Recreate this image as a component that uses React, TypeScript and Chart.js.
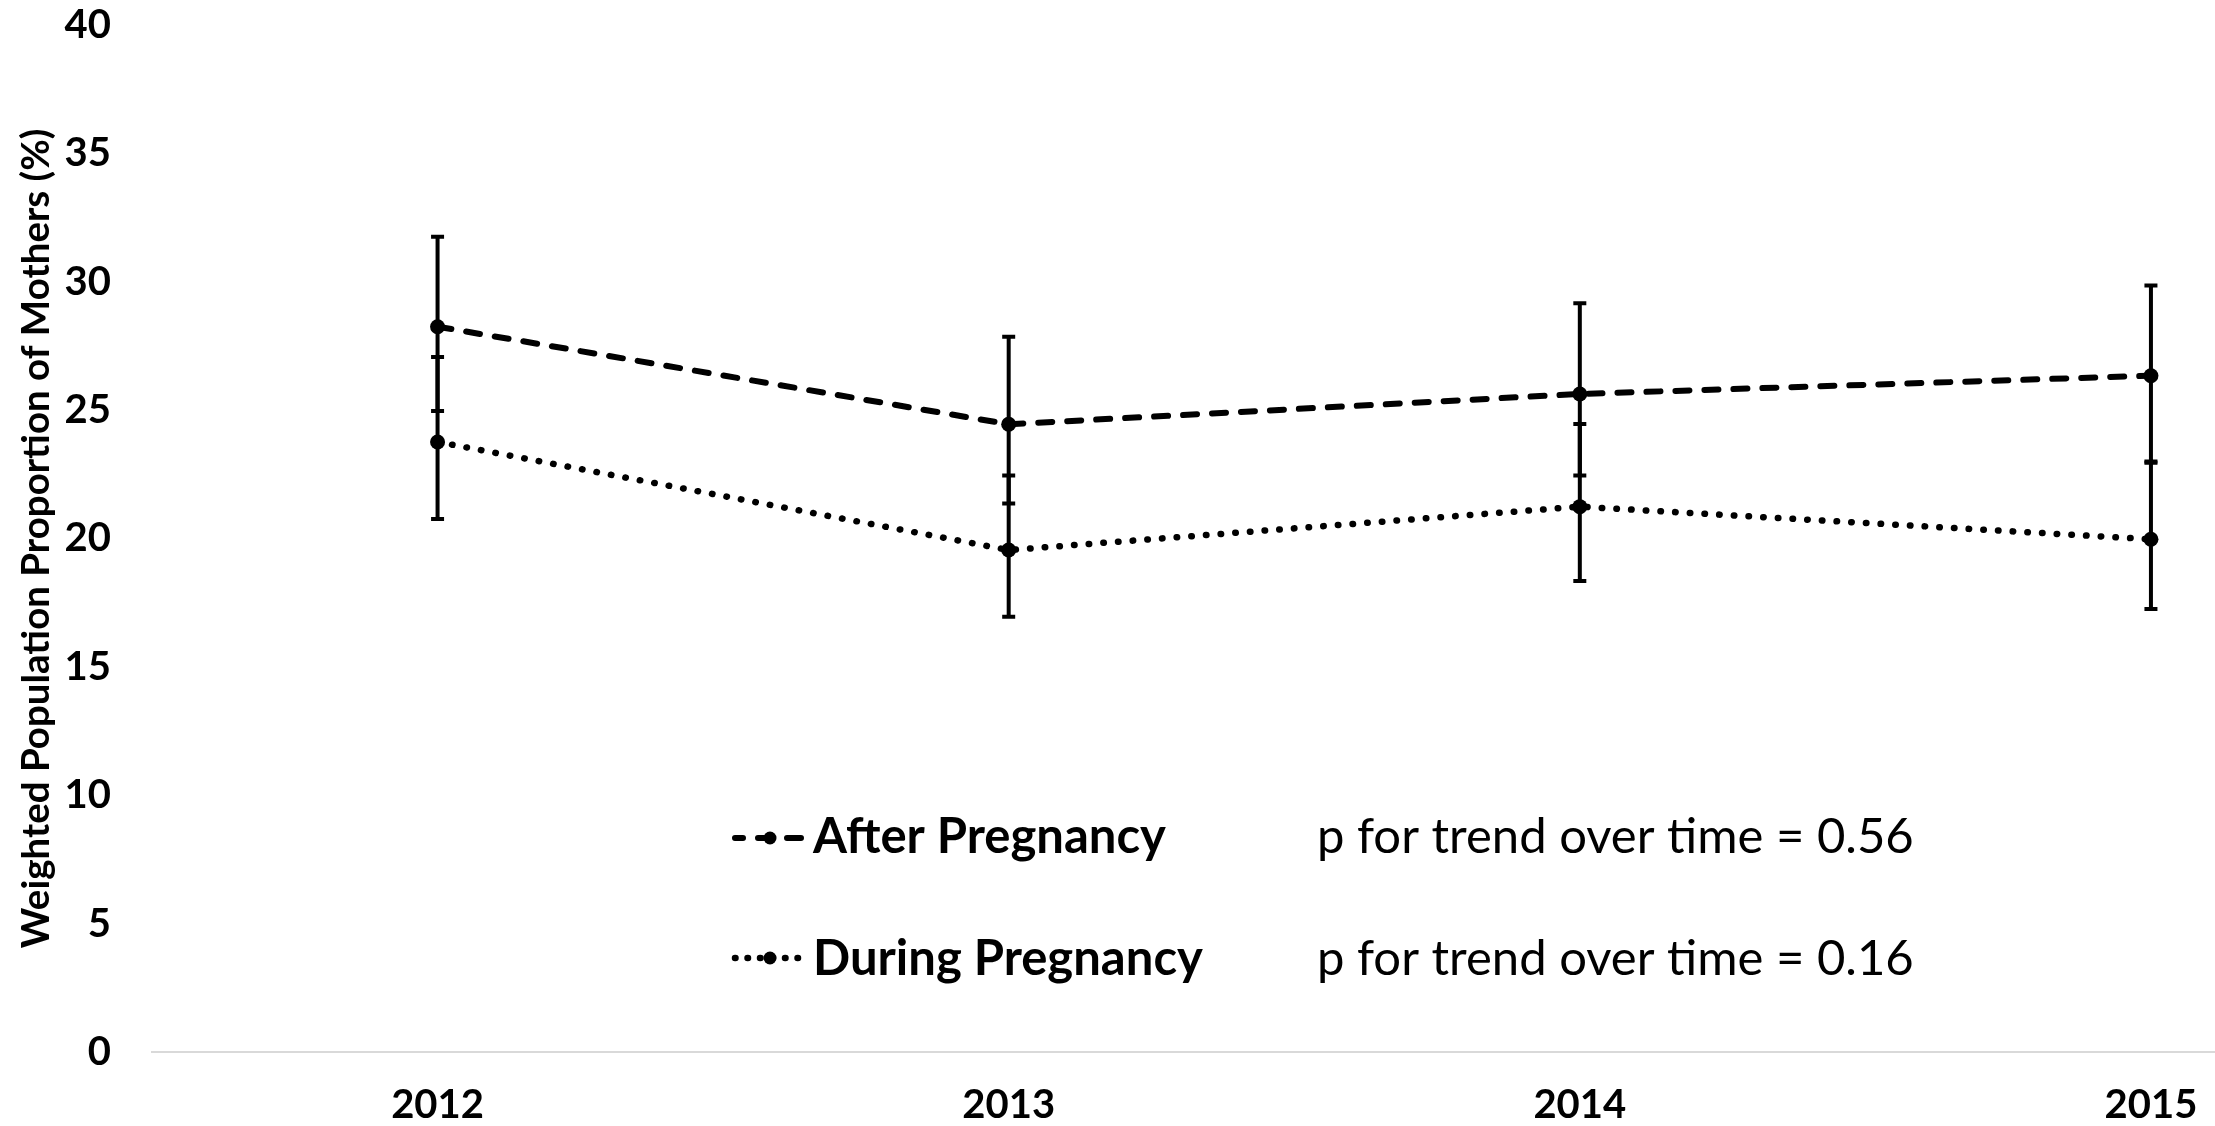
import React, { useEffect, useRef } from "react";
import { Chart, registerables } from "chart.js";

Chart.register(...registerables);

// ---- data ----
const years = ["2012", "2013", "2014", "2015"];
const afterValues = [28.25, 24.45, 25.63, 26.34];
const afterLower = [24.97, 21.36, 22.45, 23.0];
const afterUpper = [31.75, 27.86, 29.16, 29.85];
const duringValues = [23.76, 19.55, 21.24, 19.97];
const duringLower = [20.76, 16.95, 18.34, 17.25];
const duringUpper = [27.07, 22.45, 24.46, 22.95];
const yMin = 0;
const yMax = 40;
const yStep = 5;
const seriesLabels = ["After Pregnancy", "During Pregnancy"];
const trendTexts = ["p for trend over time = 0.56", "p for trend over time = 0.16"];
const yAxisTitle = "Weighted Population Proportion of Mothers (%)";

const FONT = "Lato, 'Open Sans', 'DejaVu Sans', sans-serif";

const errorBarPlugin = {
  id: "errorBars",
  beforeDatasetsDraw(chart: any) {
    const ctx = chart.ctx;
    const yScale = chart.scales.y;
    chart.data.datasets.forEach((ds: any, di: number) => {
      const meta = chart.getDatasetMeta(di);
      meta.data.forEach((pt: any, i: number) => {
        const x = pt.x;
        const yl = yScale.getPixelForValue(ds.errLow[i]);
        const yh = yScale.getPixelForValue(ds.errHigh[i]);
        ctx.save();
        ctx.strokeStyle = "#000";
        ctx.lineWidth = 4;
        ctx.setLineDash([]);
        ctx.lineCap = "butt";
        ctx.beginPath();
        ctx.moveTo(x, yl);
        ctx.lineTo(x, yh);
        ctx.moveTo(x - 6.5, yl);
        ctx.lineTo(x + 6.5, yl);
        ctx.moveTo(x - 6.5, yh);
        ctx.lineTo(x + 6.5, yh);
        ctx.stroke();
        ctx.restore();
      });
    });
  },
};

const legendPlugin = {
  id: "customLegend",
  afterDraw(chart: any) {
    const ctx = chart.ctx;
    const rows = [
      { y: 853, lineY: 838, dash: [14, 15], width: 6, dashOffset: 6 },
      { y: 975, lineY: 958, dash: [0.5, 12], width: 6.5, dashOffset: 0 },
    ];
    rows.forEach((r, i) => {
      ctx.save();
      ctx.strokeStyle = "#000";
      ctx.lineWidth = r.width;
      ctx.lineCap = "round";
      ctx.setLineDash(r.dash);
      ctx.lineDashOffset = r.dashOffset;
      ctx.beginPath();
      ctx.moveTo(735, r.lineY);
      ctx.lineTo(808, r.lineY);
      ctx.stroke();
      ctx.setLineDash([]);
      ctx.fillStyle = "#000";
      ctx.beginPath();
      ctx.arc(770, r.lineY, 6.5, 0, Math.PI * 2);
      ctx.fill();
      ctx.textBaseline = "alphabetic";
      ctx.textAlign = "left";
      ctx.font = `bold 49px ${FONT}`;
      ctx.fillText(seriesLabels[i], 813, r.y);
      ctx.font = `49px ${FONT}`;
      ctx.fillText(trendTexts[i], 1317, r.y);
      ctx.restore();
    });
  },
};

export default function App() {
  const ref = useRef<HTMLCanvasElement>(null);
  useEffect(() => {
    if (!ref.current) return;
    const chart = new Chart(ref.current, {
      type: "line",
      data: {
        labels: years,
        datasets: [
          {
            label: seriesLabels[0],
            data: afterValues,
            errLow: afterLower,
            errHigh: afterUpper,
            borderColor: "#000",
            backgroundColor: "#000",
            borderWidth: 6,
            borderDash: [14, 15],
            borderCapStyle: "round",
            pointRadius: 7.5,
            pointBorderWidth: 0,
            pointBackgroundColor: "#000",
            tension: 0,
          } as any,
          {
            label: seriesLabels[1],
            data: duringValues,
            errLow: duringLower,
            errHigh: duringUpper,
            borderColor: "#000",
            backgroundColor: "#000",
            borderWidth: 6.5,
            borderDash: [0.5, 14.2],
            borderCapStyle: "round",
            pointRadius: 7.5,
            pointBorderWidth: 0,
            pointBackgroundColor: "#000",
            tension: 0,
          } as any,
        ],
      },
      options: {
        animation: false,
        responsive: false,
        devicePixelRatio: 1,
        layout: { padding: { top: 25, left: 0, right: 0, bottom: 0 } },
        plugins: {
          legend: { display: false },
          tooltip: { enabled: false },
        },
        scales: {
          x: {
            offset: true,
            grid: { display: false, drawTicks: false },
            border: { display: true, color: "#d9d9d9", width: 2 },
            ticks: {
              color: "#000",
              padding: 29,
              font: { family: FONT, size: 40, weight: "bold" },
              maxRotation: 0,
            },
            afterFit: (s: any) => {
              s.height = 74;
            },
          },
          y: {
            min: yMin,
            max: yMax,
            grid: { display: false, drawTicks: false },
            border: { display: false },
            ticks: {
              stepSize: yStep,
              color: "#000",
              padding: 41,
              font: { family: FONT, size: 40, weight: "bold" },
            },
            title: {
              display: true,
              text: yAxisTitle,
              color: "#000",
              font: { family: FONT, size: 38.5, weight: "bold" },
              padding: { top: 13, bottom: 0 },
            },
            afterFit: (s: any) => {
              s.width = 152;
              s.paddingTop = 0;
              s.paddingBottom = 0;
            },
          },
        },
      },
      plugins: [errorBarPlugin, legendPlugin],
    });
    return () => chart.destroy();
  }, []);
  return (
    <div
      style={{
        position: "fixed",
        left: 0,
        top: 0,
        width: 2215,
        height: 1126,
        overflow: "hidden",
        background: "#fff",
      }}
    >
      <canvas ref={ref} width={2444} height={1126} style={{ display: "block" }} />
    </div>
  );
}
